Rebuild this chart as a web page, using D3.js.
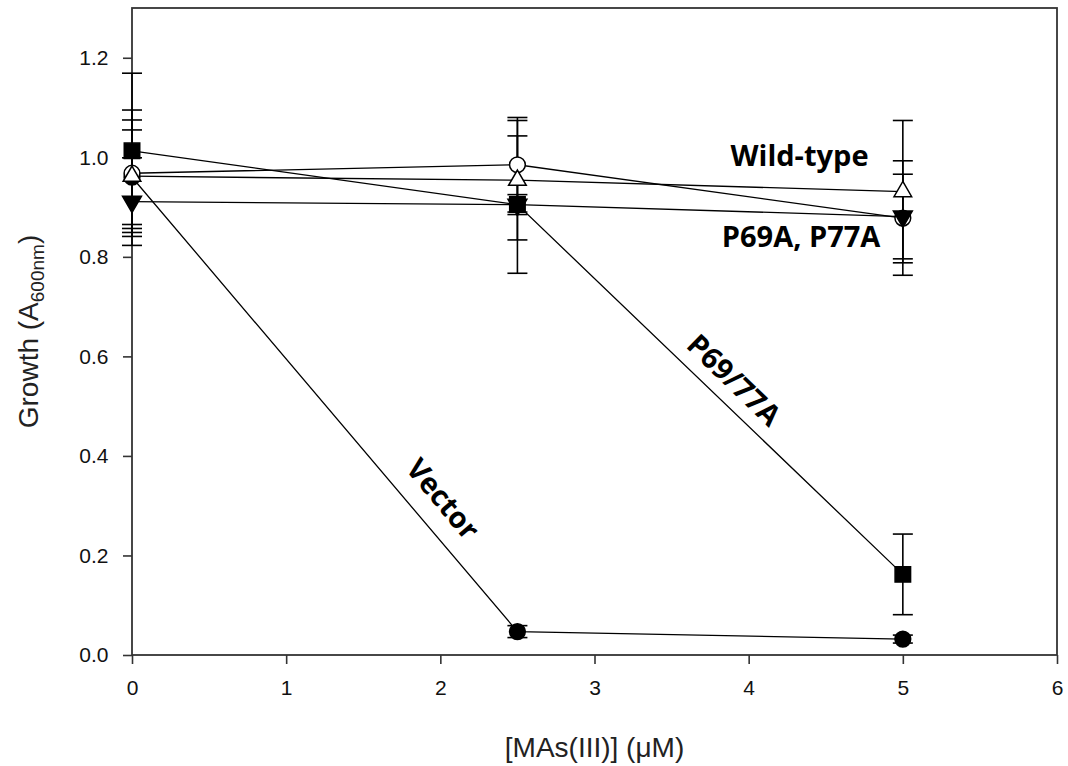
<!DOCTYPE html>
<html>
<head>
<meta charset="UTF-8">
<title>Growth vs MAs(III)</title>
<style>
body { margin: 0; background: #fff; }
.axis text { font-family: "Liberation Sans", Arial, sans-serif; font-size: 21px; fill: #111; }
.axis path, .axis line { stroke: #333; stroke-width: 1.6; }
.lbl { font-family: "Open Sans", "Noto Sans", sans-serif; font-weight: bold; font-size: 29px; fill: #000; }
.title { font-family: "Liberation Sans", Arial, sans-serif; font-size: 28px; fill: #222; }
</style>
</head>
<body>
<div id="chart"></div>
<script src="https://d3js.org/d3.v7.min.js"></script>
<script>
// doses (uM) and growth values
var doses = [0, 2.5, 5];

var wildType    = [0.962, 0.954, 0.931];
var wildTypeErr = [0.113, 0.120, 0.143];
var p69a        = [0.968, 0.985, 0.878];
var p69aErr     = [0.127, 0.095, 0.115];
var p77a        = [0.911, 0.905, 0.881];
var p77aErr     = [0.088, 0.020, 0.085];
var p6977a      = [1.013, 0.905, 0.162];
var p6977aErr   = [0.156, 0.138, 0.081];
var vector      = [0.960, 0.047, 0.032];
var vectorErr   = [0.095, 0.012, 0.008];

var xTicks = [0, 1, 2, 3, 4, 5, 6];
var yTicks = [0, 0.2, 0.4, 0.6, 0.8, 1.0, 1.2];

var width = 1068, height = 766;
var margin = {left: 132, right: 11, top: 8, bottom: 111};

var svg = d3.select("#chart").append("svg")
    .attr("width", width)
    .attr("height", height);

var x = d3.scaleLinear().domain([0, 6]).range([margin.left, width - margin.right]);
var y = d3.scaleLinear().domain([0, 1.3]).range([height - margin.bottom, margin.top]);

// frame
svg.append("rect")
    .attr("x", x(0)).attr("y", y(1.3))
    .attr("width", x(6) - x(0)).attr("height", y(0) - y(1.3))
    .attr("fill", "none").attr("stroke", "#333").attr("stroke-width", 1.8);

var xAxis = svg.append("g").attr("class", "axis")
    .attr("transform", "translate(0," + y(0) + ")")
    .call(d3.axisBottom(x).tickValues(xTicks).tickFormat(d3.format("d")).tickSize(9).tickSizeOuter(0));
xAxis.selectAll("text").attr("dy", "1.35em");

var yAxis = svg.append("g").attr("class", "axis")
    .attr("transform", "translate(" + x(0) + ",0)")
    .call(d3.axisLeft(y).tickValues(yTicks).tickFormat(d3.format(".1f")).tickSize(9).tickSizeOuter(0));
yAxis.selectAll("text").attr("dx", "-0.55em");
yAxis.select(".domain").remove();
xAxis.select(".domain").remove();

// axis titles
svg.append("text").attr("class", "title")
    .attr("x", (x(0) + x(6)) / 2).attr("y", 757)
    .attr("text-anchor", "middle")
    .text("[MAs(III)] (\u03BCM)");

var yt = svg.append("text").attr("class", "title")
    .attr("transform", "translate(38," + ((y(0) + y(1.3)) / 2) + ") rotate(-90)")
    .attr("text-anchor", "middle");
yt.append("tspan").text("Growth (A");
yt.append("tspan").attr("font-size", "19px").attr("dy", "6").text("600nm");
yt.append("tspan").attr("dy", "-6").text(")");

var series = [
  {name: "Vector",    vals: vector,   err: vectorErr,   shape: "circle",   fill: "#000"},
  {name: "P69A",      vals: p69a,     err: p69aErr,     shape: "circle",   fill: "#fff"},
  {name: "Wild-type", vals: wildType, err: wildTypeErr, shape: "triangle", fill: "#fff"},
  {name: "P77A",      vals: p77a,     err: p77aErr,     shape: "down",     fill: "#000"},
  {name: "P69/77A",   vals: p6977a,   err: p6977aErr,   shape: "square",   fill: "#000"}
];

var line = d3.line().x(function(d){ return x(d[0]); }).y(function(d){ return y(d[1]); });

// connecting lines
series.forEach(function(s){
  svg.append("path")
     .datum(doses.map(function(d, i){ return [d, s.vals[i]]; }))
     .attr("d", line)
     .attr("fill", "none").attr("stroke", "#000").attr("stroke-width", 1.3);
});

// error bars
series.forEach(function(s){
  var g = svg.append("g").attr("stroke", "#000").attr("stroke-width", 1.6);
  doses.forEach(function(d, i){
    var cx = x(d), hi = y(s.vals[i] + s.err[i]), lo = y(s.vals[i] - s.err[i]);
    g.append("line").attr("x1", cx).attr("x2", cx).attr("y1", hi).attr("y2", lo);
    g.append("line").attr("x1", cx - 10).attr("x2", cx + 10).attr("y1", hi).attr("y2", hi);
    g.append("line").attr("x1", cx - 10).attr("x2", cx + 10).attr("y1", lo).attr("y2", lo);
  });
});

// markers
var symbols = {
  circle: d3.symbol().type(d3.symbolCircle).size(195),
  triangle: d3.symbol().type(d3.symbolTriangle).size(135),
  down: d3.symbol().type(d3.symbolTriangle).size(155),
  square: d3.symbol().type(d3.symbolSquare).size(240)
};
series.forEach(function(s){
  doses.forEach(function(d, i){
    var rot = s.shape === "down" ? " rotate(180)" : "";
    svg.append("path")
       .attr("d", symbols[s.shape]())
       .attr("transform", "translate(" + x(d) + "," + y(s.vals[i]) + ")" + rot)
       .attr("fill", s.fill).attr("stroke", "#000").attr("stroke-width", 1.5);
  });
});

// series labels
svg.append("text").attr("class", "lbl").attr("x", x(4.33)).attr("y", y(0.983))
   .attr("text-anchor", "middle").text("Wild-type");
svg.append("text").attr("class", "lbl").attr("x", x(4.34)).attr("y", y(0.82))
   .attr("text-anchor", "middle").text("P69A, P77A");
svg.append("text").attr("class", "lbl")
   .attr("transform", "translate(734,380) rotate(44)")
   .attr("text-anchor", "middle").attr("dy", "0.35em").text("P69/77A");
svg.append("text").attr("class", "lbl")
   .attr("transform", "translate(443,499) rotate(50)")
   .attr("text-anchor", "middle").attr("dy", "0.35em").text("Vector");
</script>
</body>
</html>
